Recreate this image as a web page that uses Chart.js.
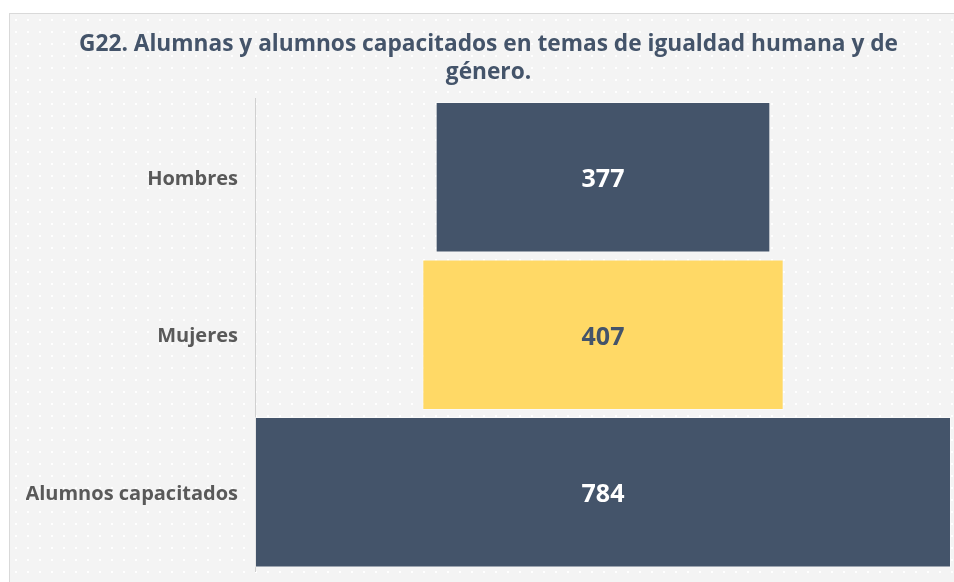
<!DOCTYPE html>
<html lang="es">
<head>
<meta charset="utf-8">
<title>G22</title>
<script src="https://cdn.jsdelivr.net/npm/chart.js@4/dist/chart.umd.min.js"></script>
<style>
  html, body { margin: 0; padding: 0; background: #fff; }
  body { width: 954px; height: 582px; position: relative; overflow: hidden; }
  #box {
    position: absolute; left: 9px; top: 13px; width: 960px; height: 600px;
    border: 1px solid #d9d9d9;
    background-color: #f4f4f4;
    background-image: radial-gradient(#ffffff 0.8px, transparent 1.2px);
    background-size: 12px 12px;
  }
  #chart { position: absolute; left: 0; top: 0; display: block; }
</style>
</head>
<body>
<div id="box"></div>
<canvas id="chart" width="954" height="582"></canvas>
<script>
/* global Chart */

const categories = ["Hombres", "Mujeres", "Alumnos capacitados"];
const values = [377, 407, 784];
const barColors = ["#44546a", "#ffd966", "#44546a"];
const valueColors = ["#ffffff", "#44546a", "#ffffff"];
const titleLines = [
  "G22. Alumnas y alumnos capacitados en temas de igualdad humana y de",
  "género.",
];

const FONT = "'Open Sans', 'Noto Sans', sans-serif";
const total = Math.max(...values);

// funnel: each bar is centered on the widest one
const ranges = values.map((v) => [(total - v) / 2, (total + v) / 2]);

const valueLabels = {
  id: "valueLabels",
  afterDatasetsDraw(chart) {
    const { ctx } = chart;
    const meta = chart.getDatasetMeta(0);
    ctx.save();
    ctx.font = `bold 25px ${FONT}`;
    ctx.textAlign = "center";
    ctx.textBaseline = "middle";
    meta.data.forEach((bar, i) => {
      const p = bar.getProps(["x", "y", "base"], true);
      ctx.fillStyle = valueColors[i];
      ctx.fillText(String(values[i]), (p.x + p.base) / 2, p.y + 3);
    });
    ctx.restore();
  },
};

const chart = new Chart(document.getElementById("chart"), {
  type: "bar",
  data: {
    labels: categories,
    datasets: [
      {
        data: ranges,
        backgroundColor: barColors,
        borderColor: "rgba(255,255,255,0.45)",
        borderWidth: 1,
        borderSkipped: false,
        barPercentage: 1,
        categoryPercentage: 0.955,
      },
    ],
  },
  options: {
    indexAxis: "y",
    responsive: false,
    animation: false,
    layout: { padding: { left: 26, right: 3, top: 0, bottom: 11 } },
    plugins: {
      legend: { display: false },
      tooltip: { enabled: false },
      title: {
        display: true,
        text: titleLines,
        color: "#44546a",
        font: { family: FONT, size: 22.7, weight: "bold", lineHeight: 1.22 },
        padding: { top: 31, bottom: 12 },
      },
    },
    scales: {
      x: { display: false, min: 0, max: total },
      y: {
        grid: { display: false, drawTicks: false },
        border: { display: true, color: "#d0d0d0", width: 1 },
        ticks: {
          color: "#595959",
          padding: 17,
          labelOffset: 2,
          font: { family: FONT, size: 20, weight: "bold" },
        },
        afterFit: (scale) => {
          scale.width = 229;
          scale.paddingTop = 0;
          scale.paddingBottom = 0;
        },
      },
    },
  },
  plugins: [valueLabels],
});
</script>
</body>
</html>
